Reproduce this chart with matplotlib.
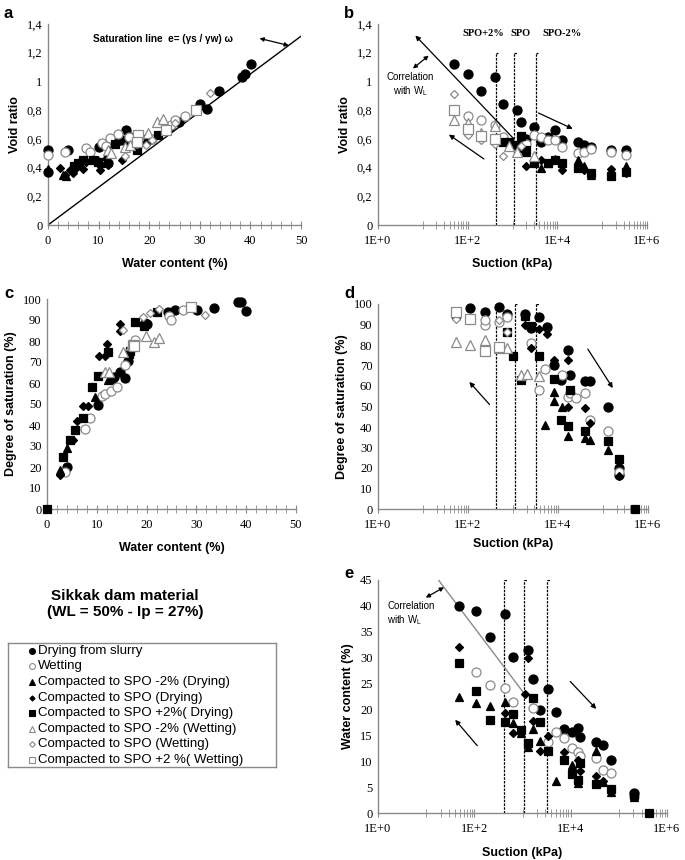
import matplotlib
matplotlib.use('Agg')
import matplotlib.pyplot as plt
from matplotlib.ticker import FixedLocator, FuncFormatter, NullFormatter
import numpy as np

# ---- Data ----
series_keys = ['slurry_dry', 'wetting', 'spo_m2_dry', 'spo_dry', 'spo_p2_dry',
               'spo_m2_wet', 'spo_wet', 'spo_p2_wet']
series_labels = ['Drying from slurry', 'Wetting', 'Compacted to SPO -2% (Drying)',
                 'Compacted to SPO (Drying)', 'Compacted to SPO +2%( Drying)',
                 'Compacted to SPO -2% (Wetting)', 'Compacted to SPO (Wetting)',
                 'Compacted to SPO +2 %( Wetting)']

# panel a: water content (%) vs void ratio
a_slurry_dry = [(0, 0.52), (0, 0.37), (3.9, 0.52), (10.1, 0.545), (11.9, 0.43), (13.7, 0.585),
                (14.6, 0.595), (15.4, 0.66), (16.2, 0.615), (16.5, 0.57), (17.5, 0.59), (19.4, 0.58),
                (20.2, 0.60), (24.1, 0.685), (25.9, 0.72), (30.1, 0.84), (31.4, 0.805), (33.7, 0.93),
                (38.4, 1.03), (39.0, 1.05), (40.1, 1.12)]
a_wetting = [(0, 0.49), (3.4, 0.51), (7.5, 0.535), (8.3, 0.51), (10.6, 0.57), (11.5, 0.55),
             (12.3, 0.605), (13.9, 0.635), (16.0, 0.61), (20.5, 0.60), (24.4, 0.70), (25.0, 0.73),
             (27.1, 0.76)]
a_spo_m2_dry = [(0, 0.39), (3.0, 0.35), (3.6, 0.34), (9.8, 0.45), (10.5, 0.43), (12.0, 0.52), (11.5, 0.48)]
a_spo_dry = [(2.4, 0.395), (3.4, 0.35), (4.3, 0.38), (5.0, 0.365), (5.6, 0.40), (6.9, 0.39), (7.6, 0.44),
             (8.5, 0.45), (10.2, 0.38), (11.9, 0.42), (14.6, 0.45)]
a_spo_p2_dry = [(5.2, 0.41), (5.9, 0.43), (6.9, 0.45), (8.9, 0.45), (9.8, 0.44), (13.2, 0.565),
                (17.5, 0.52), (19.5, 0.60), (21.8, 0.625)]
a_spo_m2_wet = [(11.9, 0.52), (12.4, 0.50), (15.2, 0.545), (16.2, 0.56), (19.8, 0.64), (21.5, 0.72), (22.7, 0.735)]
a_spo_wet = [(15.2, 0.48), (17.5, 0.565), (19.4, 0.555), (20.5, 0.59), (25.0, 0.71), (32.0, 0.92)]
a_spo_p2_wet = [(17.8, 0.625), (17.5, 0.58), (23.4, 0.66), (29.2, 0.80)]
sat_w = [0, 50]
gs = 2.63

# panel b: suction (kPa) vs void ratio
b_slurry_dry = [(49, 1.12), (100, 1.05), (195, 0.93), (400, 1.03), (600, 0.84), (1230, 0.80), (1520, 0.72),
                (2000, 0.60), (2950, 0.68), (4260, 0.58), (6300, 0.61), (9100, 0.66), (13000, 0.59),
                (29000, 0.58), (39000, 0.56), (56000, 0.54), (160000, 0.52), (340000, 0.52)]
b_wetting = [(100, 0.76), (195, 0.73), (400, 0.70), (600, 0.61), (2000, 0.565), (2950, 0.63), (4260, 0.61),
             (6300, 0.59), (9100, 0.59), (13000, 0.54), (29000, 0.50), (39000, 0.51), (56000, 0.53),
             (160000, 0.51), (340000, 0.49)]
b_spo_m2_dry = [(2000, 0.51), (4260, 0.40), (6300, 0.43), (9100, 0.46), (29000, 0.45), (39000, 0.41),
                (56000, 0.35), (160000, 0.38), (340000, 0.41)]
b_spo_dry = [(1500, 0.53), (1950, 0.41), (4260, 0.45), (13000, 0.38), (29000, 0.40), (39000, 0.38),
             (160000, 0.39), (340000, 0.36)]
b_spo_p2_dry = [(600, 0.58), (820, 0.58), (1230, 0.56), (1520, 0.62), (1950, 0.52), (2950, 0.43),
                (6300, 0.43), (9100, 0.45), (13000, 0.43), (29000, 0.395), (56000, 0.365),
                (160000, 0.34), (340000, 0.37)]
b_spo_m2_wet = [(49, 0.73), (100, 0.71), (195, 0.64), (400, 0.69), (820, 0.55), (1230, 0.51), (2950, 0.48)]
b_spo_wet = [(49, 0.91), (100, 0.63), (195, 0.59), (400, 0.565), (600, 0.48), (1520, 0.55)]
b_spo_p2_wet = [(49, 0.80), (100, 0.67), (195, 0.62), (400, 0.60)]

# panel c: water content (%) vs degree of saturation (%)
c_slurry_dry = [(4.1, 19.8), (10.2, 49.5), (13.0, 62.0), (13.5, 62.7), (14.6, 65.4), (15.7, 62.2),
                (16.3, 70.4), (19.4, 87.5), (19.7, 88.4), (20.0, 88.0), (24.2, 93.6), (25.8, 94.8),
                (30.1, 94.8), (33.6, 95.9), (38.4, 98.6), (38.9, 98.5), (39.9, 94.3)]
c_wetting = [(3.6, 17.8), (7.6, 38), (8.6, 43.2), (11.0, 53.8), (11.6, 54.8), (12.8, 56.4), (14.0, 58.3),
             (15.7, 68.6), (17.6, 80.5), (24.4, 91.7), (24.9, 89.8), (27.4, 94.8)]
c_spo_m2_dry = [(2.6, 18.6), (3.95, 28.9), (9.6, 53.2), (12.2, 61.4), (16.8, 77.3)]
c_spo_dry = [(2.6, 16.2), (5.3, 33), (6.0, 42), (7.2, 49), (8.3, 49), (10.4, 72.8), (11.6, 72.8),
             (12.0, 78.5), (14.6, 87.9), (14.6, 84.9)]
c_spo_p2_dry = [(0, 0), (3.3, 24.9), (4.7, 33), (5.6, 37.6), (7.3, 43.2), (9.1, 58.2), (10.2, 63.3),
                (12.2, 75), (16.5, 74), (16.7, 75.4), (17.6, 89.2), (19.4, 87.1), (22.0, 93.6)]
c_spo_m2_wet = [(11.7, 65.4), (12.5, 65.4), (15.2, 75), (16.8, 78), (19.9, 82.6), (21.5, 79.4), (22.5, 81.3)]
c_spo_wet = [(15.2, 85.2), (17.2, 78), (19.2, 91.5), (20.6, 93.1), (22.5, 95.4), (31.8, 92.2)]
c_spo_p2_wet = [(17.2, 78), (17.5, 77.4), (28.9, 96.3)]

# panel d: suction (kPa) vs degree of saturation (%)
d_slurry_dry = [(54, 94.3), (112, 97.9), (234, 96.1), (480, 98.5), (740, 95.1), (1860, 95.1), (2500, 88.1),
                (3800, 93.7), (5600, 88.6), (8300, 70.4), (11500, 63.1), (17000, 77.4), (18600, 65.5),
                (40000, 62.3), (52000, 62.3), (130000, 49.6), (224000, 20), (224000, 16.7)]
d_wetting = [(234, 89.6), (234, 92.4), (480, 91.1), (740, 93.7), (2500, 81), (3700, 58.2), (5250, 68.5),
             (12000, 65.5), (17000, 54.6), (18600, 56.6), (25000, 54.1), (40000, 56.6), (52000, 43.6),
             (130000, 38.2), (224000, 17.9)]
d_spo_m2_dry = [(5250, 40.8), (8300, 52.5), (8300, 56.9), (12000, 50), (17000, 35.4), (40000, 34.6),
                (52000, 33.8), (130000, 28.6)]
d_spo_dry = [(1860, 89.8), (2500, 78.5), (3800, 87.8), (5600, 85.4), (8300, 72.8), (17000, 72.8),
             (17000, 49.6), (40000, 49.3), (52000, 41.9), (224000, 16.3)]
d_spo_p2_dry = [(740, 86.2), (1000, 74.6), (1500, 63.1), (1860, 94.3), (2500, 89.1), (3800, 74.6),
                (8300, 63.6), (11500, 43.3), (17000, 40.3), (18600, 58.2), (40000, 37.9), (130000, 33),
                (224000, 24.6), (510000, 0)]
d_spo_m2_wet = [(54, 81.5), (112, 80.2), (234, 82.6), (480, 78.5), (740, 78.5), (1500, 65.5), (2000, 65.9),
                (3800, 65)]
d_spo_wet = [(54, 92.7), (480, 92.4), (740, 86.3)]
d_spo_p2_wet = [(54, 96.1), (112, 92.8), (234, 77.2), (480, 78.9)]

# panel e: suction (kPa) vs water content (%)
e_slurry_dry = [(49, 40.0), (107, 39.0), (213, 33.9), (427, 38.4), (650, 30.2), (1330, 31.5), (1670, 25.8),
                (2300, 19.9), (3400, 24.0), (4900, 19.6), (7100, 16.2), (10500, 15.6), (14400, 16.4),
                (15800, 14.6), (34000, 13.7), (46000, 13.2), (69000, 10.3), (204000, 3.9)]
e_wetting = [(107, 27.2), (213, 24.7), (427, 24.2), (650, 21.5), (1670, 20.2), (3400, 13.8), (4900, 15.6),
             (7100, 14.5), (10500, 12.5), (14400, 11.7), (15800, 11.1), (34000, 10.7), (46000, 8.4),
             (69000, 7.8), (204000, 3.2)]
e_spo_m2_dry = [(49, 22.5), (107, 21.3), (213, 20.6), (427, 21.5), (650, 17.4), (930, 15.5), (1330, 12.8),
                (1670, 16.2), (2300, 14.0), (4900, 6.1), (10500, 9.3), (14400, 5.7), (34000, 11.9),
                (46000, 5.9), (69000, 4.0), (204000, 3.1)]
e_spo_dry = [(49, 32), (427, 19.3), (650, 15.4), (1140, 23.0), (1330, 29.9), (1670, 17.7), (2300, 12.0),
             (3400, 14.8), (7100, 11.7), (14400, 10.3), (15800, 8.2), (34000, 7.2), (46000, 6.1), (204000, 3.5)]
e_spo_p2_dry = [(49, 28.9), (107, 23.5), (213, 17.9), (427, 17.5), (650, 19.2), (930, 16.1), (1330, 13.5),
                (1670, 22.2), (2300, 17.5), (3400, 12.0), (7100, 10.3), (10500, 7.6), (14400, 6.3),
                (15800, 9.6), (34000, 5.6), (69000, 4.6), (204000, 3.4), (420000, 0)]
e_spo_m2_wet = []
e_spo_wet = []
e_spo_p2_wet = []

spo_suction = [420, 1100, 3300]
spo_labels = ['SPO+2%', 'SPO', 'SPO-2%']
spo_label_x = [220, 1480, 12800]

# ---- Styles ----
gray = '#8a8a8a'
styles = {
    'slurry_dry': dict(marker='o', ms=6.5, mfc='black', mec='black'),
    'wetting': dict(marker='o', ms=6.5, mfc='white', mec=gray),
    'spo_m2_dry': dict(marker='^', ms=6, mfc='black', mec='black'),
    'spo_dry': dict(marker='D', ms=4, mfc='black', mec='black'),
    'spo_p2_dry': dict(marker='s', ms=6, mfc='black', mec='black'),
    'spo_m2_wet': dict(marker='^', ms=6.5, mfc='white', mec=gray),
    'spo_wet': dict(marker='D', ms=4.5, mfc='white', mec=gray),
    'spo_p2_wet': dict(marker='s', ms=6.5, mfc='white', mec=gray),
}
serif = 'Liberation Serif'
sans = 'Liberation Sans'

fig = plt.figure(figsize=(6.85, 8.6), dpi=100)
W, H = 685.0, 860.0


def box(l, r, t, b):
    return [l / W, 1 - b / H, (r - l) / W, (b - t) / H]


comma = FuncFormatter(lambda v, p: ('%g' % v).replace('.', ','))


def style_axis(ax, ylabel, xlabel, xpad=8):
    for s in ['top', 'right']:
        ax.spines[s].set_visible(False)
    for s in ['left', 'bottom']:
        ax.spines[s].set_color(gray)
        ax.spines[s].set_linewidth(1.0)
    ax.tick_params(axis='y', length=0, labelsize=9, pad=4)
    ax.tick_params(axis='x', which='both', direction='inout', length=6, color=gray,
                   labelsize=9, pad=4)
    for lab in ax.get_xticklabels() + ax.get_yticklabels():
        lab.set_fontfamily(serif)
    ax.set_ylabel(ylabel, fontfamily=sans, fontweight='bold', fontsize=9)
    ax.set_xlabel(xlabel, fontfamily=sans, fontweight='bold', fontsize=9, labelpad=xpad)


def plot_series(ax, data):
    for key in series_keys:
        pts = data[key]
        if not pts:
            continue
        x, y = zip(*pts)
        ax.plot(x, y, ls='none', mew=0.9, clip_on=False, zorder=3, **styles[key])


def log_axis(ax):
    ax.set_xscale('log')
    ax.set_xlim(1, 1e6)
    ax.xaxis.set_major_locator(FixedLocator([1, 1e2, 1e4, 1e6]))
    ax.xaxis.set_major_formatter(FuncFormatter(lambda v, p: '1E+%d' % round(np.log10(v))))
    minors = [m * 10 ** d for d in (1, 3, 5) for m in range(1, 10)]
    ax.xaxis.set_minor_locator(FixedLocator(minors))
    ax.xaxis.set_minor_formatter(NullFormatter())


def spo_lines(ax, top):
    ax.vlines(spo_suction, 0, top, colors='black', linestyles=(0, (2, 1)), lw=0.9, zorder=2)
    for s in spo_suction:
        ax.plot([s, s * 1.12], [top, top], color='black', lw=0.9, ls=(0, (2, 1)))


arrow = dict(arrowstyle='-|>', color='black', lw=0.9, mutation_scale=7, shrinkA=0, shrinkB=0)
darrow = dict(arrowstyle='<|-|>', color='black', lw=0.9, mutation_scale=6, shrinkA=0, shrinkB=0)

g = globals()

# ---- Panel a ----
ax = fig.add_axes(box(48, 301, 24, 225))
ax.set_xlim(0, 50)
ax.set_ylim(0, 1.4)
ax.set_xticks(np.arange(0, 51, 10))
ax.set_xticks(np.arange(0, 51, 2), minor=True)
ax.set_yticks(np.arange(0, 1.41, 0.2))
ax.yaxis.set_major_formatter(comma)
ax.plot(sat_w, [gs * w / 100 for w in sat_w], color='black', lw=1.0, zorder=2)
plot_series(ax, {k: g['a_' + k] for k in series_keys})
ax.text(8.8, 1.295, 'Saturation line  e= (\u03b3s / \u03b3w) \u03c9', fontfamily=sans,
        fontweight='bold', fontsize=7.2, va='center')
ax.annotate('', xy=(41.8, 1.30), xytext=(47.6, 1.25), arrowprops=darrow)
style_axis(ax, 'Void ratio', 'Water content (%)')

# ---- Panel b ----
ax = fig.add_axes(box(378, 647, 24, 225))
log_axis(ax)
ax.set_ylim(0, 1.4)
ax.set_yticks(np.arange(0, 1.41, 0.2))
ax.yaxis.set_major_formatter(comma)
spo_lines(ax, 1.2)
plot_series(ax, {k: g['b_' + k] for k in series_keys})
for xl, lab in zip(spo_label_x, spo_labels):
    ax.text(xl, 1.335, lab, fontfamily=serif, fontweight='bold', fontsize=7.5, ha='center', va='center')
ax.annotate('', xy=(6.8, 1.32), xytext=(1070, 0.60), arrowprops=arrow)
ax.annotate('', xy=(6.0, 1.09), xytext=(13.5, 1.18), arrowprops=darrow)
ax.text(5.3, 0.975, 'Correlation\nwith W$_\\mathregular{L}$', fontfamily=sans, fontsize=7,
        ha='center', va='center', linespacing=1.2)
ax.annotate('', xy=(38, 0.63), xytext=(230, 0.46), arrowprops=arrow)
ax.annotate('', xy=(22000, 0.67), xytext=(3800, 0.78), arrowprops=arrow)
style_axis(ax, 'Void ratio', 'Suction (kPa)')

# ---- Panel c ----
ax = fig.add_axes(box(47, 296, 299, 509))
ax.set_xlim(0, 50)
ax.set_ylim(0, 100)
ax.set_xticks(np.arange(0, 51, 10))
ax.set_xticks(np.arange(0, 51, 2), minor=True)
ax.set_yticks(np.arange(0, 101, 10))
plot_series(ax, {k: g['c_' + k] for k in series_keys})
style_axis(ax, 'Degree of saturation (%)', 'Water content (%)')

# ---- Panel d ----
ax = fig.add_axes(box(378, 648, 304, 509))
log_axis(ax)
ax.set_ylim(0, 100)
ax.set_yticks(np.arange(0, 101, 10))
spo_lines(ax, 100)
plot_series(ax, {k: g['d_' + k] for k in series_keys})
ax.annotate('', xy=(107, 62), xytext=(300, 51), arrowprops=arrow)
ax.annotate('', xy=(165000, 59), xytext=(46000, 78), arrowprops=arrow)
style_axis(ax, 'Degree of saturation (%)', 'Suction (kPa)', xpad=5)

# ---- Panel e ----
ax = fig.add_axes(box(378, 667, 580, 813))
log_axis(ax)
ax.set_ylim(0, 45)
ax.set_yticks(np.arange(0, 46, 5))
spo_lines(ax, 45)
plot_series(ax, {k: g['e_' + k] for k in series_keys})
ax.plot([18, 1140], [45, 22.8], color=gray, lw=1.0, zorder=2)
ax.annotate('', xy=(9.8, 41.6), xytext=(23.5, 43.6), arrowprops=darrow)
ax.text(1.55, 38.5, 'Correlation\nwith W$_\\mathregular{L}$', fontfamily=sans, fontsize=7,
        ha='left', va='center', linespacing=1.2)
ax.annotate('', xy=(40, 18), xytext=(115, 13), arrowprops=arrow)
ax.annotate('', xy=(34000, 20.1), xytext=(9800, 25.4), arrowprops=arrow)
style_axis(ax, 'Water content (%)', 'Suction (kPa)', xpad=9)

# ---- Panel letters ----
for lx, ly, letter in [(4, 14, 'a'), (344, 14, 'b'), (4, 294, 'c'), (344, 294, 'd'), (344, 574, 'e')]:
    fig.text(lx / W, 1 - ly / H, letter, fontfamily=sans, fontweight='bold', fontsize=12, va='center')

# ---- Title and legend ----
fig.text(125 / W, 1 - 604 / H, 'Sikkak dam material\n(WL = 50% - Ip = 27%)', fontfamily=sans,
         fontweight='bold', fontsize=11, ha='center', va='center', linespacing=1.15)

lg = fig.add_axes(box(8, 276, 643, 767))
lg.set_xlim(0, 1)
lg.set_ylim(0, 1)
lg.set_xticks([])
lg.set_yticks([])
for s in lg.spines.values():
    s.set_color(gray)
    s.set_linewidth(1.0)
row_y = np.linspace(0.938, 0.056, len(series_keys))
for yy, key, lab in zip(row_y, series_keys, series_labels):
    st = dict(styles[key])
    st['ms'] = st['ms'] * 0.65
    lg.plot([0.09], [yy], ls='none', mew=0.8, **st)
    lg.text(0.112, yy, lab, fontfamily=sans, fontsize=9.5, va='center')

fig.savefig('out.png', dpi=100)
